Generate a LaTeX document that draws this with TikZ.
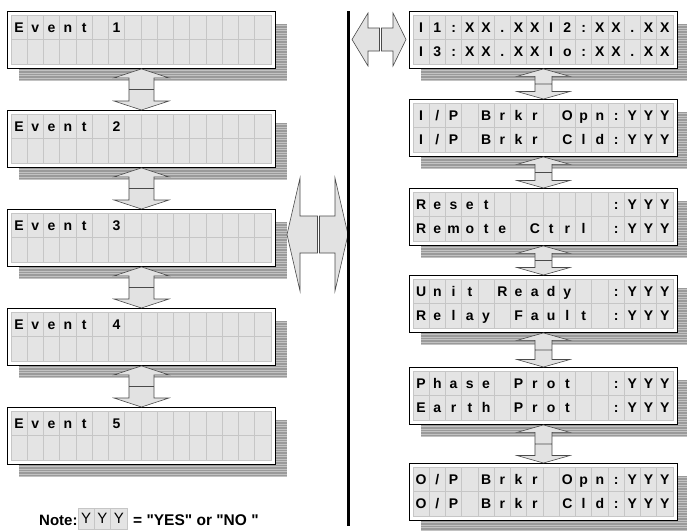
\documentclass[tikz,border=0pt]{standalone}
\usepackage{fontspec}
\setmainfont{Liberation Sans}[Ligatures=TeXOff]
\usetikzlibrary{calc}
\definecolor{cellfill}{HTML}{E4E4E4}
\definecolor{cellline}{HTML}{C6C6C6}
\definecolor{shadowdark}{HTML}{9A9A9A}
\definecolor{shadowlight}{HTML}{C2C2C2}
\definecolor{arrowfill}{HTML}{E2E2E2}
\definecolor{arrowline}{HTML}{4A4A4A}
\tikzset{
 lcdframe/.style={draw=black, fill=white, line width=0.9pt, minimum width=268pt, minimum height=57pt, inner sep=0pt, anchor=north west},
 lcdcell/.style={draw=cellline, fill=cellfill, line width=0.6pt, minimum width=16.25pt, minimum height=24.5pt, inner sep=0pt, text height=10pt, text depth=0pt, font=\fontsize{14}{14}\selectfont\bfseries},
 notecell/.style={draw=cellline, fill=cellfill, line width=0.6pt, minimum width=16.3pt, minimum height=21pt, inner sep=0pt, text height=10.5pt, text depth=0pt, font=\fontsize{15}{15}\selectfont},
 dblarrow/.style={draw=arrowline, fill=arrowfill, line width=0.6pt, line join=miter},
 notetext/.style={inner sep=0pt, anchor=base west, font=\fontsize{15}{15}\selectfont\bfseries},
}
\newcommand\lcdpanel[5]{%
  \fill[shadowdark] ($(#2,#3)+(12,13)$) rectangle ($(#2,#3)+(280,70)$);
  \foreach \k in {0,...,22} {\draw[shadowlight, line width=0.8pt] ($(#2,#3)+(12,14.5+2.5*\k)$) -- ($(#2,#3)+(280,14.5+2.5*\k)$);}
  \node[lcdframe] (#1) at (#2,#3) {};
  \foreach \c [count=\i from 0] in {#4} {\node[lcdcell] (#1-a\i) at ($(#2,#3)+(12.125+16.25*\i,16.25)$) {\c};}
  \foreach \c [count=\i from 0] in {#5} {\node[lcdcell] (#1-b\i) at ($(#2,#3)+(12.125+16.25*\i,40.75)$) {\c};}
}
\newcommand\vdarrow[5]{%
  \draw[dblarrow] let \p1=(#1.south), \p2=(#2.north), \n1={(\y1+\y2)/2} in
   (\x1,\y1) -- (\x1+#3,\y1-#5) -- (\x1+#4,\y1-#5) -- (\x1+#4,\n1) -- (\x1-#4,\n1) -- (\x1-#4,\y1-#5) -- (\x1-#3,\y1-#5) -- cycle
   (\x1-#4,\n1) -- (\x1+#4,\n1) -- (\x1+#4,\y2+#5) -- (\x1+#3,\y2+#5) -- (\x1,\y2) -- (\x1-#3,\y2+#5) -- (\x1-#4,\y2+#5) -- cycle;
}
\begin{document}
\begin{tikzpicture}[x=1pt,y=-1pt]
\useasboundingbox (0,0) rectangle (687,530);
% left column
\lcdpanel{e1}{7}{11}{E,v,e,n,t,~,1,~,~,~,~,~,~,~,~,~}{~,~,~,~,~,~,~,~,~,~,~,~,~,~,~,~}
\lcdpanel{e2}{7}{110}{E,v,e,n,t,~,2,~,~,~,~,~,~,~,~,~}{~,~,~,~,~,~,~,~,~,~,~,~,~,~,~,~}
\lcdpanel{e3}{7}{209}{E,v,e,n,t,~,3,~,~,~,~,~,~,~,~,~}{~,~,~,~,~,~,~,~,~,~,~,~,~,~,~,~}
\lcdpanel{e4}{7}{308}{E,v,e,n,t,~,4,~,~,~,~,~,~,~,~,~}{~,~,~,~,~,~,~,~,~,~,~,~,~,~,~,~}
\lcdpanel{e5}{7}{407}{E,v,e,n,t,~,5,~,~,~,~,~,~,~,~,~}{~,~,~,~,~,~,~,~,~,~,~,~,~,~,~,~}
% right column
\lcdpanel{r1}{409}{11}{I,1,:,X,X,.,X,X,I,2,:,X,X,.,X,X}{I,3,:,X,X,.,X,X,I,o,:,X,X,.,X,X}
\lcdpanel{r2}{409}{99}{I,/,P,~,B,r,k,r,~,O,p,n,:,Y,Y,Y}{I,/,P,~,B,r,k,r,~,C,l,d,:,Y,Y,Y}
\lcdpanel{r3}{409}{188}{R,e,s,e,t,~,~,~,~,~,~,~,:,Y,Y,Y}{R,e,m,o,t,e,~,C,t,r,l,~,:,Y,Y,Y}
\lcdpanel{r4}{409}{275}{U,n,i,t,~,R,e,a,d,y,~,~,:,Y,Y,Y}{R,e,l,a,y,~,F,a,u,l,t,~,:,Y,Y,Y}
\lcdpanel{r5}{409}{367}{P,h,a,s,e,~,P,r,o,t,~,~,:,Y,Y,Y}{E,a,r,t,h,~,P,r,o,t,~,~,:,Y,Y,Y}
\lcdpanel{r6}{409}{463}{O,/,P,~,B,r,k,r,~,O,p,n,:,Y,Y,Y}{O,/,P,~,B,r,k,r,~,C,l,d,:,Y,Y,Y}
% vertical double arrows
\vdarrow{e1}{e2}{27.5}{12.5}{9}
\vdarrow{e2}{e3}{27.5}{12.5}{9}
\vdarrow{e3}{e4}{27.5}{12.5}{9}
\vdarrow{e4}{e5}{27.5}{12.5}{9}
\vdarrow{r1}{r2}{26.5}{8.5}{7.5}
\vdarrow{r2}{r3}{26.5}{8.5}{7.5}
\vdarrow{r3}{r4}{26.5}{8.5}{7.5}
\vdarrow{r4}{r5}{26.5}{8.5}{7.5}
\vdarrow{r5}{r6}{26.5}{8.5}{7.5}
% big horizontal double arrow
\coordinate (bigL) at (287,234.5);
\coordinate (bigR) at (348,234.5);
\draw[dblarrow] (bigL) -- (300,178) -- (300,216) -- (317.5,216) -- (317.5,253) -- (300,253) -- (300,291) -- cycle;
\draw[dblarrow] (bigR) -- (335,178) -- (335,216) -- (319.5,216) -- (319.5,253) -- (335,253) -- (335,291) -- cycle;
% small horizontal double arrow
\coordinate (smL) at (352,39.5);
\coordinate (smR) at (406,39.5);
\draw[dblarrow] (smL) -- (368,13) -- (368,28) -- (379.5,28) -- (379.5,51) -- (368,51) -- (368,66) -- cycle;
\draw[dblarrow] (smR) -- (393,13) -- (393,28) -- (381.5,28) -- (381.5,51) -- (393,51) -- (393,66) -- cycle;
% divider
\coordinate (vtop) at (348.5,11);
\coordinate (vbot) at (348.5,526);
\draw[line width=3pt] (vtop) -- (vbot);
% note
\node[notetext] (note) at (39,525) {Note:};
\node[notecell] (ny1) at (86.2,518.5) {Y};
\node[notecell] (ny2) at (102.5,518.5) {Y};
\node[notecell] (ny3) at (118.8,518.5) {Y};
\node[notetext, font=\fontsize{15.5}{15.5}\selectfont\bfseries] (eq) at (133,525) {= "YES" or "NO "};
\end{tikzpicture}
\end{document}
